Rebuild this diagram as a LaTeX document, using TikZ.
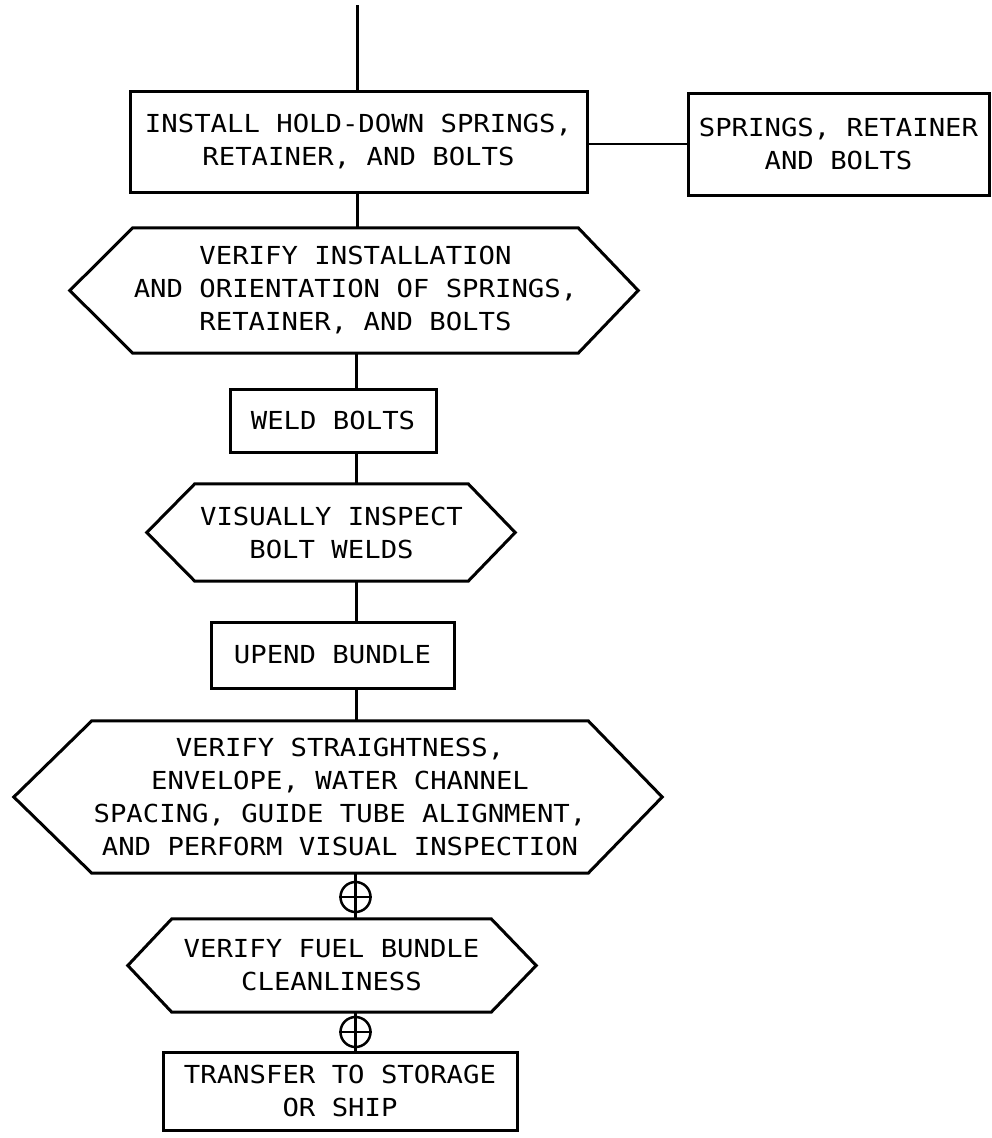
\documentclass[tikz,border=0pt]{standalone}
\usepackage{fontspec}
\newfontfamily\tw{DejaVu Sans Mono}[FakeStretch=1.1]
\begin{document}
\begin{tikzpicture}[x=1pt,y=-1pt,
  shapeline/.style={draw, line width=3pt, line join=miter},
  labelfont/.style={font=\tw\fontsize{24.8}{33}\selectfont},
  stepbox/.style={shapeline, rectangle, inner sep=0pt, align=center, labelfont},
  hexlabel/.style={rectangle, inner sep=0pt, align=center, labelfont},
  conn/.style={line width=2.5pt},
  plusmark/.style={circle, draw, line width=2.5pt, minimum size=30pt, inner sep=0pt}]
\useasboundingbox (0,0) rectangle (992,1138);
\fill[white] (0,0) rectangle (992,1138);

% process boxes
\node[stepbox, minimum width=457pt, minimum height=101pt] (b1) at (358.5,141.5)
  {INSTALL HOLD-DOWN SPRINGS,\\RETAINER, AND BOLTS};
\node[stepbox, minimum width=301pt, minimum height=102pt] (b2) at (838.5,144)
  {SPRINGS, RETAINER\\AND BOLTS};
\node[stepbox, minimum width=206pt, minimum height=63pt] (w) at (333,420.5)
  {WELD BOLTS};
\node[stepbox, minimum width=243pt, minimum height=66pt] (u) at (332.5,655)
  {UPEND BUNDLE};
\node[stepbox, minimum width=354pt, minimum height=78pt] (b5) at (340,1091)
  {TRANSFER TO STORAGE\\OR SHIP};

% inspection hexagons
\node[hexlabel, minimum width=445pt, minimum height=125pt] (h1) at (355.5,290.5)
  {VERIFY INSTALLATION\\AND ORIENTATION OF SPRINGS,\\RETAINER, AND BOLTS};
\draw[shapeline] (h1.north west) -- (h1.north east) -- ([xshift=60pt]h1.east)
  -- (h1.south east) -- (h1.south west) -- ([xshift=-63pt]h1.west) -- cycle;

\node[hexlabel, minimum width=273pt, minimum height=97pt] (h2) at (331.5,532.5)
  {VISUALLY INSPECT\\BOLT WELDS};
\draw[shapeline] (h2.north west) -- (h2.north east) -- ([xshift=47pt]h2.east)
  -- (h2.south east) -- (h2.south west) -- ([xshift=-48pt]h2.west) -- cycle;

\node[hexlabel, minimum width=496pt, minimum height=152pt] (h3) at (340,797)
  {VERIFY STRAIGHTNESS,\\ENVELOPE, WATER CHANNEL\\SPACING, GUIDE TUBE ALIGNMENT,\\AND PERFORM VISUAL INSPECTION};
\draw[shapeline] (h3.north west) -- (h3.north east) -- ([xshift=74pt]h3.east)
  -- (h3.south east) -- (h3.south west) -- ([xshift=-78pt]h3.west) -- cycle;

\node[hexlabel, minimum width=319pt, minimum height=93pt] (h4) at (331.5,965.5)
  {VERIFY FUEL BUNDLE\\CLEANLINESS};
\draw[shapeline] (h4.north west) -- (h4.north east) -- ([xshift=45pt]h4.east)
  -- (h4.south east) -- (h4.south west) -- ([xshift=-44pt]h4.west) -- cycle;

% connectors
\coordinate (top) at (357.5,5);
\coordinate (spine) at (356.5,0);
\draw[conn] (top) -- (top |- b1.north);
\draw[conn] (b2.west) -- (b2.west -| b1.east);
\draw[conn] (b1.south -| top) -- (h1.north -| top);
\draw[conn] (h1.south -| spine) -- (w.north -| spine);
\draw[conn] (w.south -| spine) -- (h2.north -| spine);
\draw[conn] (h2.south -| spine) -- (u.north -| spine);
\draw[conn] (u.south -| spine) -- (h3.north -| spine);

\node[plusmark] (c1) at (355.5,897) {};
\node[plusmark] (c2) at (355.5,1032) {};
\draw[conn] (h3.south -| c1) -- (h4.north -| c1);
\draw[conn] (c1.west) -- (c1.east);
\draw[conn] (h4.south -| c2) -- (b5.north -| c2);
\draw[conn] (c2.west) -- (c2.east);
\end{tikzpicture}
\end{document}
